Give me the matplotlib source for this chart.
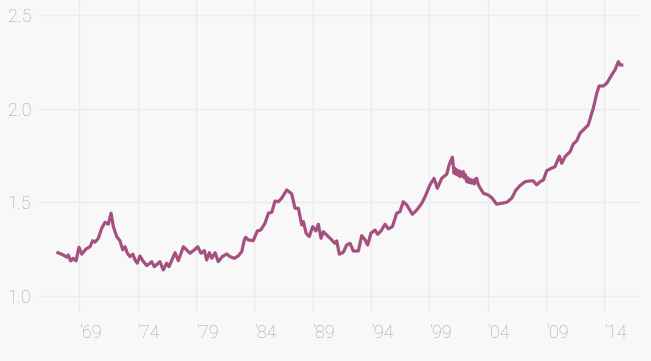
import matplotlib
matplotlib.use('Agg')
import matplotlib.pyplot as plt

# 读图得到的数据点（年份, 数值）
years = [
    1967.17, 1967.62, 1967.92, 1968.05, 1968.26, 1968.48, 1968.72, 1968.97, 1969.21, 1969.58,
    1969.92, 1970.15, 1970.34, 1970.63, 1970.92, 1971.20, 1971.49, 1971.72, 1971.92, 1972.21,
    1972.49, 1972.73, 1972.92, 1973.12, 1973.35, 1973.59, 1973.78, 1973.97, 1974.20, 1974.44,
    1974.78, 1975.06, 1975.21, 1975.43, 1975.91, 1976.20, 1976.49, 1976.69, 1977.21, 1977.49,
    1977.92, 1978.20, 1978.49, 1978.92, 1979.15, 1979.43, 1979.72, 1979.92, 1980.15, 1980.35,
    1980.64, 1980.91, 1981.26, 1981.64, 1981.92, 1982.29, 1982.63, 1982.93, 1983.15, 1983.27,
    1983.48, 1983.91, 1984.26, 1984.55, 1984.92, 1985.21, 1985.50, 1985.78, 1986.06, 1986.35,
    1986.78, 1987.21, 1987.49, 1987.78, 1988.07, 1988.21, 1988.44, 1988.71, 1989.01, 1989.29,
    1989.49, 1989.72, 1989.92, 1990.35, 1990.64, 1990.92, 1991.07, 1991.29, 1991.63, 1991.92,
    1992.21, 1992.49, 1992.92, 1993.21, 1993.50, 1993.72, 1994.00, 1994.35, 1994.58, 1994.86,
    1995.21, 1995.49, 1995.84, 1996.21, 1996.49, 1996.77, 1997.07, 1997.55, 1997.93, 1998.36,
    1998.64, 1999.06, 1999.41, 1999.69, 2000.07, 2000.50, 2000.70, 2000.98,
    2001.13, 2001.22, 2001.30, 2001.36, 2001.45, 2001.55, 2001.63, 2001.72, 2001.82, 2001.92,
    2002.00, 2002.10, 2002.21, 2002.32, 2002.42, 2002.53, 2002.64, 2002.75, 2002.86, 2002.97,
    2003.07, 2003.17, 2003.29,
    2003.64, 2004.06, 2004.35, 2004.78,
    2005.21, 2005.64, 2006.07, 2006.44, 2006.78, 2007.21, 2007.64, 2007.92, 2008.21, 2008.50,
    2008.78, 2009.07, 2009.35, 2009.78, 2010.15, 2010.36, 2010.64, 2011.07, 2011.35, 2011.65,
    2011.92, 2012.20, 2012.63, 2013.06, 2013.36, 2013.56, 2013.93, 2014.22, 2014.64, 2014.92,
    2015.21, 2015.35, 2015.50,
]
values = [
    1.231, 1.219, 1.207, 1.219, 1.187, 1.201, 1.187, 1.260, 1.223, 1.251,
    1.263, 1.295, 1.287, 1.308, 1.361, 1.393, 1.383, 1.442, 1.370, 1.317,
    1.294, 1.246, 1.263, 1.228, 1.210, 1.223, 1.192, 1.175, 1.214, 1.188,
    1.162, 1.175, 1.183, 1.156, 1.183, 1.139, 1.175, 1.156, 1.231, 1.188,
    1.263, 1.246, 1.228, 1.249, 1.263, 1.228, 1.242, 1.192, 1.231, 1.201,
    1.231, 1.183, 1.210, 1.224, 1.210, 1.201, 1.214, 1.237, 1.300, 1.313,
    1.299, 1.295, 1.347, 1.352, 1.388, 1.442, 1.447, 1.507, 1.503, 1.522,
    1.566, 1.545, 1.468, 1.468, 1.379, 1.397, 1.335, 1.317, 1.370, 1.347,
    1.383, 1.308, 1.343, 1.317, 1.299, 1.281, 1.294, 1.223, 1.233, 1.272,
    1.281, 1.240, 1.240, 1.322, 1.299, 1.272, 1.335, 1.352, 1.329, 1.347,
    1.383, 1.358, 1.370, 1.442, 1.450, 1.503, 1.486, 1.436, 1.459, 1.495,
    1.530, 1.593, 1.628, 1.575, 1.628, 1.650, 1.699, 1.741,
    1.655, 1.680, 1.650, 1.673, 1.645, 1.668, 1.637, 1.662, 1.640, 1.664,
    1.630, 1.648, 1.610, 1.630, 1.605, 1.622, 1.602, 1.618, 1.598, 1.625,
    1.628, 1.600, 1.584,
    1.548, 1.539, 1.525, 1.490,
    1.495, 1.500, 1.522, 1.566, 1.589, 1.610, 1.614, 1.614, 1.593, 1.610,
    1.619, 1.669, 1.678, 1.690, 1.747, 1.708, 1.744, 1.770, 1.812, 1.829,
    1.869, 1.886, 1.913, 2.002, 2.082, 2.121, 2.121, 2.136, 2.180, 2.207,
    2.251, 2.233, 2.233,
]

x_ticks = [1969, 1974, 1979, 1984, 1989, 1994, 1999, 2004, 2009, 2014]
x_labels = ['\u201969', '\u201974', '\u201979', '\u201984', '\u201989',
            '\u201994', '\u201999', '\u201904', '\u201909', '\u201914']
y_ticks = [1.0, 1.5, 2.0, 2.5]
y_labels = ['1.0', '1.5', '2.0', '2.5']

bg = '#f8f8f8'
grid_c = '#ebebeb'
label_c = '#9da0a6'

plt.rcParams['font.family'] = ['Roboto', 'DejaVu Sans']

fig = plt.figure(figsize=(6.51, 3.61), dpi=100, facecolor=bg)
ax = fig.add_axes([38 / 651, 48 / 361, 603 / 651, 313 / 361])
ax.set_facecolor(bg)

ax.plot(years, values, color='#a4517f', linewidth=2.3, solid_joinstyle='round')

ax.set_xlim(1965.46, 2017.15)
ax.set_ylim(0.909, 2.580)

ax.set_xticks(x_ticks)
ax.set_xticklabels(x_labels, ha='left', fontsize=13, color=label_c, fontweight='light')
ax.set_yticks(y_ticks)
ax.set_yticklabels(y_labels, fontsize=13, color=label_c, fontweight='light')
ax.tick_params(axis='x', length=0, pad=8)
ax.tick_params(axis='y', length=0, pad=5)

ax.grid(True, color=grid_c, linewidth=1)
ax.set_axisbelow(True)
for s in ax.spines.values():
    s.set_visible(False)

fig.savefig('out.png', dpi=100, facecolor=bg)
